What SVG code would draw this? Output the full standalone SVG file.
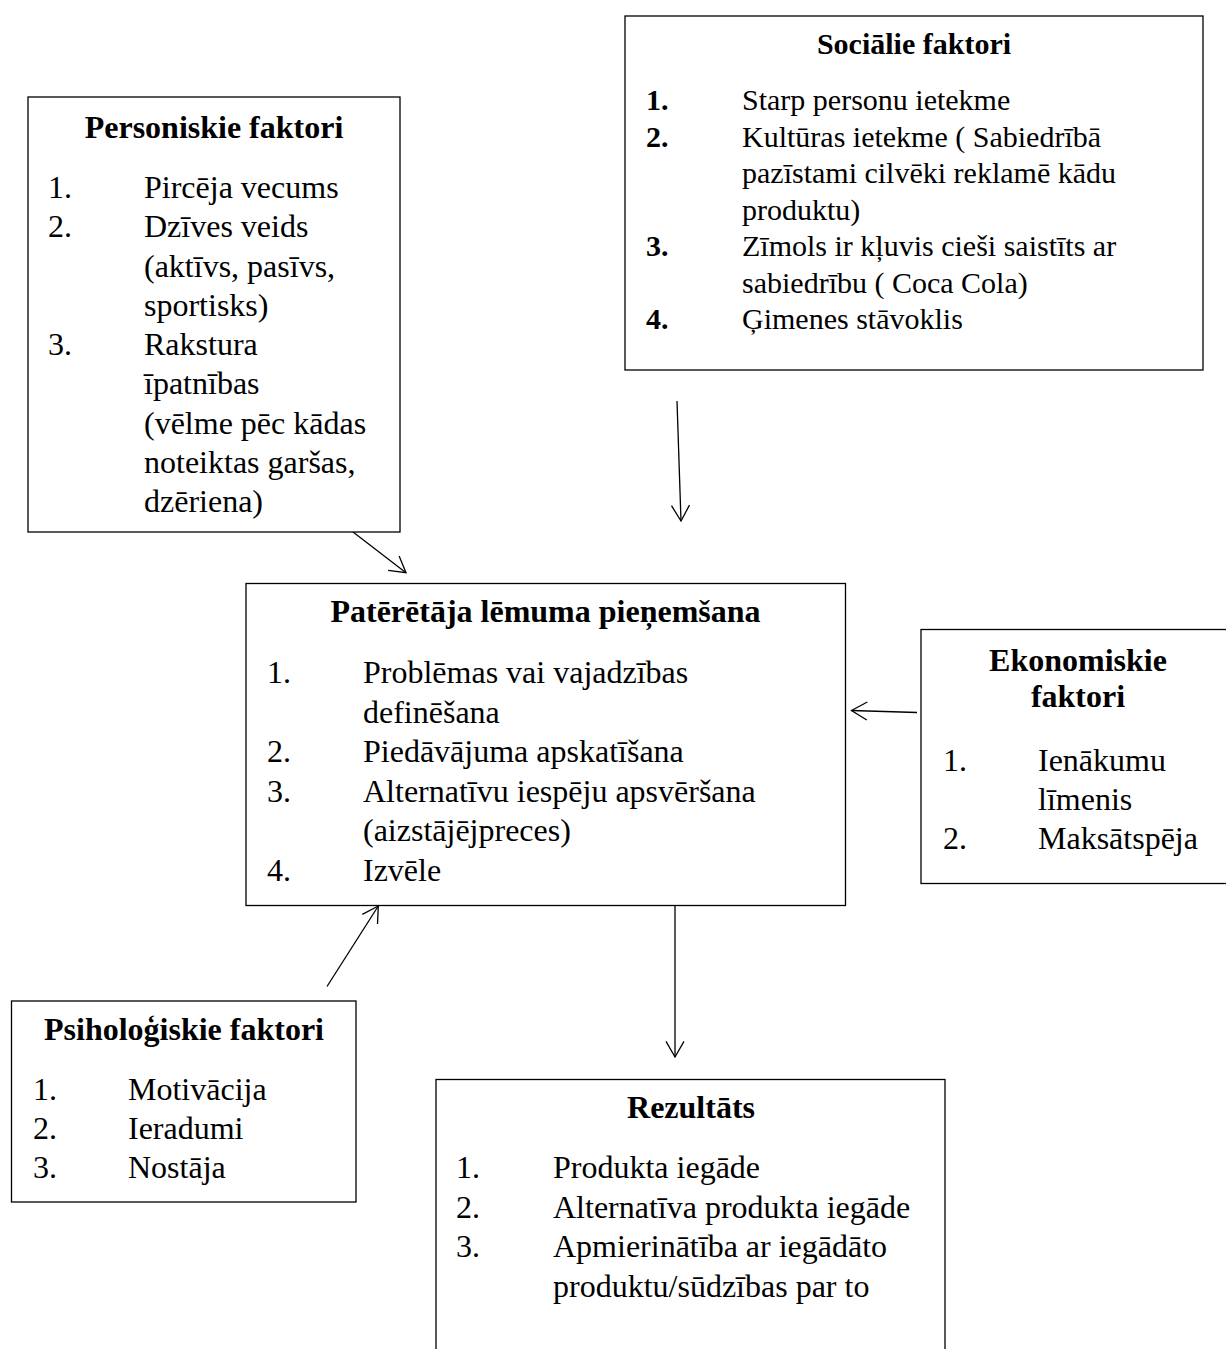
<svg xmlns="http://www.w3.org/2000/svg" width="1226" height="1349" viewBox="0 0 1226 1349">
<style>
.box{fill:#fff;stroke:#000;stroke-width:1.3}
.t{font-family:"Liberation Serif","Times New Roman",serif;font-size:32px;fill:#000}
.s{font-family:"Liberation Serif","Times New Roman",serif;font-size:30px;fill:#000}
.b{font-weight:bold}
.c{text-anchor:middle}
.ln{fill:none;stroke:#000;stroke-width:1.3}
</style>
<defs>
<marker id="arr" markerUnits="userSpaceOnUse" viewBox="-20 -12 22 24" markerWidth="22" markerHeight="24" refX="0" refY="0" orient="auto" overflow="visible">
<path d="M-15.6,-9 L0,0 L-15.6,9" fill="none" stroke="#000" stroke-width="1.3"/>
</marker>
</defs>
<rect width="1226" height="1349" fill="#fff"/>
<g id="connectors">
<path class="ln" d="M352.7,531.7 L406,572.7" marker-end="url(#arr)"/>
<path class="ln" d="M677,401 L681,521" marker-end="url(#arr)"/>
<path class="ln" d="M917,712.5 L851.5,710.5" marker-end="url(#arr)"/>
<path class="ln" d="M327,986.5 L378.3,906" marker-end="url(#arr)"/>
<path class="ln" d="M675,905 L675,1057" marker-end="url(#arr)"/>
</g>
<g id="personiskie">
<rect class="box" x="28" y="97" width="372" height="435"/>
<text class="t b c" x="214" y="138">Personiskie faktori</text>
<text class="t" x="48" y="198">1.</text>
<text class="t" x="144" y="198">Pircēja vecums</text>
<text class="t" x="48" y="237.3">2.</text>
<text class="t" x="144" y="237.3">Dzīves veids</text>
<text class="t" x="144" y="276.5">(aktīvs, pasīvs,</text>
<text class="t" x="144" y="315.8">sportisks)</text>
<text class="t" x="48" y="355">3.</text>
<text class="t" x="144" y="355">Rakstura</text>
<text class="t" x="144" y="394.3">īpatnības</text>
<text class="t" x="144" y="433.5">(vēlme pēc kādas</text>
<text class="t" x="144" y="472.8">noteiktas garšas,</text>
<text class="t" x="144" y="512">dzēriena)</text>
</g>
<g id="sociālie">
<rect class="box" x="625" y="16" width="578" height="354"/>
<text class="s b c" x="914" y="54">Sociālie faktori</text>
<text class="s b" x="646" y="110">1.</text>
<text class="s" x="742" y="110">Starp personu ietekme</text>
<text class="s b" x="646" y="146.5">2.</text>
<text class="s" x="742" y="146.5">Kultūras ietekme ( Sabiedrībā</text>
<text class="s" x="742" y="183">pazīstami cilvēki reklamē kādu</text>
<text class="s" x="742" y="219.5">produktu)</text>
<text class="s b" x="646" y="256">3.</text>
<text class="s" x="742" y="256">Zīmols ir kļuvis cieši saistīts ar</text>
<text class="s" x="742" y="292.5">sabiedrību ( Coca Cola)</text>
<text class="s b" x="646" y="329">4.</text>
<text class="s" x="742" y="329">Ģimenes stāvoklis</text>
</g>
<g id="pateretaja">
<rect class="box" x="246" y="583.5" width="599.5" height="322"/>
<text class="t b c" x="545.5" y="621.7">Patērētāja lēmuma pieņemšana</text>
<text class="t" x="267" y="683">1.</text>
<text class="t" x="363" y="683">Problēmas vai vajadzības</text>
<text class="t" x="363" y="722.5">definēšana</text>
<text class="t" x="267" y="762">2.</text>
<text class="t" x="363" y="762">Piedāvājuma apskatīšana</text>
<text class="t" x="267" y="801.5">3.</text>
<text class="t" x="363" y="801.5">Alternatīvu iespēju apsvēršana</text>
<text class="t" x="363" y="841">(aizstājējpreces)</text>
<text class="t" x="267" y="880.5">4.</text>
<text class="t" x="363" y="880.5">Izvēle</text>
</g>
<g id="ekonomiskie">
<rect class="box" x="921" y="629.5" width="315" height="254"/>
<text class="t b c" x="1078" y="671">Ekonomiskie</text>
<text class="t b c" x="1078" y="707">faktori</text>
<text class="t" x="943" y="771">1.</text>
<text class="t" x="1038" y="771">Ienākumu</text>
<text class="t" x="1038" y="810">līmenis</text>
<text class="t" x="943" y="849">2.</text>
<text class="t" x="1038" y="849">Maksātspēja</text>
</g>
<g id="psihologiskie">
<rect class="box" x="11.5" y="1001" width="344.5" height="201"/>
<text class="t b c" x="184" y="1040">Psiholoģiskie faktori</text>
<text class="t" x="33" y="1100">1.</text>
<text class="t" x="128" y="1100">Motivācija</text>
<text class="t" x="33" y="1139">2.</text>
<text class="t" x="128" y="1139">Ieradumi</text>
<text class="t" x="33" y="1178">3.</text>
<text class="t" x="128" y="1178">Nostāja</text>
</g>
<g id="rezultats">
<rect class="box" x="436" y="1079.5" width="509" height="290"/>
<text class="t b c" x="691" y="1118">Rezultāts</text>
<text class="t" x="456" y="1178">1.</text>
<text class="t" x="553" y="1178">Produkta iegāde</text>
<text class="t" x="456" y="1217.5">2.</text>
<text class="t" x="553" y="1217.5">Alternatīva produkta iegāde</text>
<text class="t" x="456" y="1257">3.</text>
<text class="t" x="553" y="1257">Apmierinātība ar iegādāto</text>
<text class="t" x="553" y="1296.5">produktu/sūdzības par to</text>
</g>
</svg>
